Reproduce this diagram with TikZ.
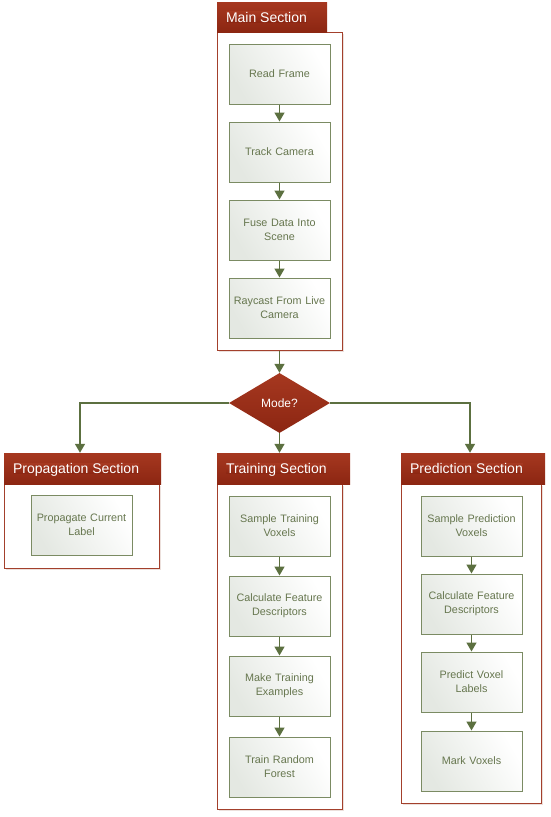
\documentclass[tikz,border=0pt]{standalone}
\usepackage{fontspec}
\setmainfont{Liberation Sans}
\usetikzlibrary{shapes.geometric,arrows.meta,shadows}
\definecolor{secred}{HTML}{A3402C}
\definecolor{hredA}{HTML}{A63820}
\definecolor{hredB}{HTML}{8C2612}
\definecolor{boxborder}{HTML}{7B8B63}
\definecolor{boxtext}{HTML}{66764E}
\definecolor{arrgreen}{HTML}{5C7040}
\definecolor{boxfillA}{HTML}{E4E8E2}
\definecolor{shadowred}{HTML}{C9A59C}
\tikzset{
  secbox/.style={draw=secred, line width=1pt, fill=white, inner sep=0pt,
    drop shadow={shadow xshift=2pt, shadow yshift=-2pt, opacity=0.35, fill=shadowred}},
  sechead/.style={draw=none, top color=hredA, bottom color=hredB, text=white,
    font=\fontsize{14}{16}\selectfont, inner sep=0pt, text depth=0pt},
  stepbox/.style={draw=boxborder, line width=1pt, left color=boxfillA, right color=white,
    shading angle=120, text=boxtext, align=center, inner sep=0pt,
    minimum width=101pt, minimum height=60pt, text width=94pt,
    font=\fontsize{10.8}{14}\selectfont},
  modebox/.style={shape=diamond, top color=hredA, bottom color=hredB, text=white,
    inner sep=0pt, minimum width=101pt, minimum height=60pt,
    font=\fontsize{12}{14}\selectfont},
  arr/.style={draw=arrgreen, line width=1.5pt, -{Triangle[width=10pt,length=9pt]}}
}
\begin{document}
\begin{tikzpicture}[x=1pt,y=-1pt]
\useasboundingbox (0,0) rectangle (550,817);
% section boxes
\node[secbox, minimum width=125pt, minimum height=318pt] (mainbox) at (279.5,191) {};
\node[secbox, minimum width=155pt, minimum height=84pt] (propbox) at (81.5,526) {};
\node[secbox, minimum width=125pt, minimum height=325pt] (trainbox) at (279.5,646.5) {};
\node[secbox, minimum width=140pt, minimum height=319pt] (predbox) at (471,643.5) {};
% headers
\node[sechead, minimum width=110pt, minimum height=30pt] (mainhead) at (272,17) {};
\node[sechead, anchor=west, text=white] (mainheadtxt) at ([xshift=9pt]mainhead.west) {Main Section};
\node[sechead, minimum width=157pt, minimum height=31pt] (prophead) at (82.5,468.5) {};
\node[sechead, anchor=west] (propheadtxt) at ([xshift=9pt]prophead.west) {Propagation Section};
\node[sechead, minimum width=133pt, minimum height=31pt] (trainhead) at (283.5,468.5) {};
\node[sechead, anchor=west] (trainheadtxt) at ([xshift=9pt]trainhead.west) {Training Section};
\node[sechead, minimum width=144pt, minimum height=31pt] (predhead) at (473,468.5) {};
\node[sechead, anchor=west] (predheadtxt) at ([xshift=9pt]predhead.west) {Prediction Section};
% main steps
\node[stepbox] (m1) at (279.5,74) {Read Frame};
\node[stepbox] (m2) at (279.5,152) {Track Camera};
\node[stepbox] (m3) at (279.5,230) {Fuse Data Into\\Scene};
\node[stepbox] (m4) at (279.5,308) {Raycast From Live\\Camera};
% decision
\node[modebox] (mode) at (279.5,403) {Mode?};
% propagation
\node[stepbox] (p1) at (81.5,525) {Propagate Current\\Label};
% training
\node[stepbox] (t1) at (279.5,526) {Sample Training\\Voxels};
\node[stepbox] (t2) at (279.5,606) {Calculate Feature\\Descriptors};
\node[stepbox] (t3) at (279.5,686) {Make Training\\Examples};
\node[stepbox] (t4) at (279.5,767) {Train Random\\Forest};
% prediction
\node[stepbox] (r1) at (471.5,526) {Sample Prediction\\Voxels};
\node[stepbox] (r2) at (471.5,604) {Calculate Feature\\Descriptors};
\node[stepbox] (r3) at (471.5,682) {Predict Voxel\\Labels};
\node[stepbox] (r4) at (471.5,761) {Mark Voxels};
% connectors
\draw[arr] (m1.south) -- (m2.north);
\draw[arr] (m2.south) -- (m3.north);
\draw[arr] (m3.south) -- (m4.north);
\draw[arr] (mainbox.south) -- (mode.north);
\draw[arr] (mode.south) -- (mode.south |- trainhead.north);
\draw[arr] (mode.west) -| ([xshift=-1.5pt]propbox.north |- prophead.north);
\draw[arr] (mode.east) -| ([xshift=-1pt]predbox.north |- predhead.north);
\draw[arr] (t1.south) -- (t2.north);
\draw[arr] (t2.south) -- (t3.north);
\draw[arr] (t3.south) -- (t4.north);
\draw[arr] (r1.south) -- (r2.north);
\draw[arr] (r2.south) -- (r3.north);
\draw[arr] (r3.south) -- (r4.north);
\end{tikzpicture}
\end{document}
